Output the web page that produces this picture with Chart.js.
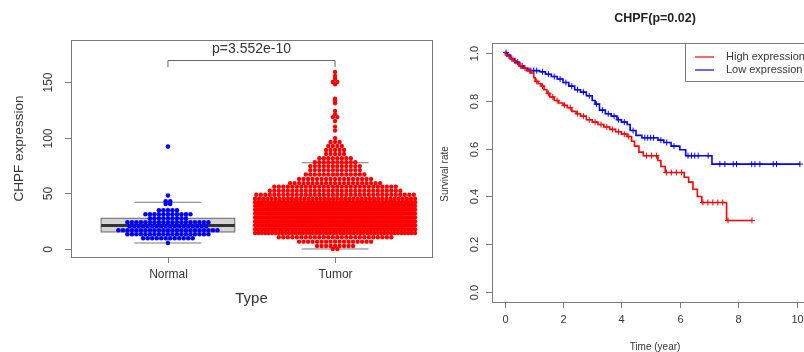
<!DOCTYPE html>
<html>
<head>
<meta charset="utf-8">
<script src="https://cdn.jsdelivr.net/npm/chart.js@4.4.0/dist/chart.umd.min.js"></script>
<style>
  html, body { margin: 0; padding: 0; background: #fff; overflow: hidden; width: 804px; height: 352px; }
  #left { position: absolute; left: 0; top: 0; }
  #right { position: absolute; left: 430px; top: 0; }
</style>
</head>
<body>
<canvas id="left" width="440" height="352"></canvas>
<canvas id="right" width="400" height="352"></canvas>
<script>
// ---------- left panel: CHPF expression by type ----------
const groups = ['Normal', 'Tumor'];
const exprTicks = [0, 50, 100, 150];
const pLabel = 'p=3.552e-10';

// beeswarm rows: row value and number of dots in it
const normalRowValues = [5.4, 9.6, 13.2, 16.8, 20.4, 24, 27.6, 31.2, 34.7, 40.4, 42.8, 48, 92];
const normalRowCounts = [1, 12, 19, 23, 18, 19, 9, 11, 5, 2, 2, 1, 1];

const tumorRowValues = [0, 2.7, 6.6, 10.5, 14.3, 17.8, 21.3, 24.8, 28.3, 31.8, 35.3, 38.7, 42.0, 45.2,
  48.8, 52.3, 56.0, 59.2, 62.9, 66.9, 70.9, 74.5, 78.0, 81.6, 85.3, 89.0, 92.6, 96.2, 99.5,
  106.5, 110, 115, 118.5, 121, 124, 131, 133.5, 135, 148, 150, 153, 155.5, 159];
const tumorRowCounts = [2, 9, 17, 26, 48, 62, 72, 80, 82, 78, 70, 60, 50, 40,
  36, 30, 28, 21, 17, 14, 12, 12, 10, 8, 5, 5, 4, 3, 1,
  1, 1, 1, 2, 1, 1, 1, 1, 1, 1, 2, 1, 1, 1];

// boxplot stats: low whisker, q1, median, q3, high whisker
const normalBox = [5.4, 15.3, 21, 27.6, 42];
const tumorBox = [0, 17, 28, 40, 77.5];

// ---------- right panel: survival ----------
const timeTicks = [0, 2, 4, 6, 8, 10];
const survTicks = [0, 0.2, 0.4, 0.6, 0.8, 1.0];

const highTimes = [0, 0.03, 0.1, 0.2, 0.3, 0.4, 0.5, 0.6, 0.75, 0.9, 1.0, 1.05, 1.15, 1.25, 1.35, 1.45, 1.55,
  1.7, 1.85, 2.0, 2.15, 2.3, 2.45, 2.6, 2.8, 3.0, 3.2, 3.4, 3.6, 3.8, 4.0, 4.2, 4.35, 4.45, 4.6, 4.75,
  5.25, 5.35, 5.5, 6.15, 6.3, 6.45, 6.6, 6.75, 7.6];
const highSurv = [1.0, 0.99, 0.985, 0.975, 0.965, 0.955, 0.945, 0.935, 0.925, 0.915, 0.895, 0.88, 0.87, 0.86, 0.845, 0.83, 0.815,
  0.80, 0.79, 0.78, 0.77, 0.755, 0.745, 0.735, 0.72, 0.71, 0.70, 0.69, 0.68, 0.67, 0.66, 0.65, 0.63, 0.61, 0.585, 0.57,
  0.55, 0.525, 0.50, 0.48, 0.46, 0.43, 0.40, 0.375, 0.30];
const highCensor = [0.15, 0.35, 0.55, 0.7, 0.85, 1.1, 1.3, 1.5, 1.65, 1.8, 2.05, 2.25, 2.5, 2.7, 2.9, 3.1, 3.3,
  3.5, 3.7, 3.9, 4.1, 4.25, 4.86, 5.03, 5.2, 5.54, 5.71, 5.88, 6.06, 6.79, 6.96, 7.13, 7.3, 7.47, 7.65, 8.47];

const lowTimes = [0, 0.1, 0.2, 0.35, 0.5, 0.65, 0.8, 1.2, 1.4, 1.6, 1.8, 2.0, 2.2, 2.4, 2.6, 2.8, 3.0, 3.1,
  3.25, 3.45, 3.65, 3.85, 4.0, 4.2, 4.3, 4.5, 4.7, 5.25, 5.45, 5.7, 6.0, 6.2, 7.1];
const lowSurv = [1.0, 0.99, 0.975, 0.96, 0.945, 0.935, 0.925, 0.92, 0.91, 0.90, 0.89, 0.875, 0.86, 0.845, 0.835, 0.82, 0.80, 0.785,
  0.76, 0.745, 0.735, 0.72, 0.71, 0.70, 0.675, 0.655, 0.645, 0.635, 0.625, 0.61, 0.595, 0.57, 0.535];
const lowCensor = [0.05, 0.25, 0.45, 0.6, 0.9, 1.0, 1.1, 1.3, 1.5, 1.7, 1.9, 2.1, 2.3, 2.5, 2.7, 2.9, 3.15, 3.35,
  3.55, 3.75, 3.9, 4.1, 4.4, 4.8, 4.9, 5.0, 5.1, 5.35, 5.55, 5.8, 6.28, 6.4, 6.51, 6.63, 6.97, 7.37, 7.54,
  7.83, 7.94, 8.46, 8.57, 8.74, 9.2, 9.31, 10.11];

const legendLabels = ['High expression', 'Low expression'];
const red = '#ff0000', blue = '#0000ff';
const frameGray = '#7a7a7a', textCol = '#333';
const font = (size, bold) => (bold ? 'bold ' : '') + size + 'px "Liberation Sans", Arial, sans-serif';

// centered beeswarm rows; rows too wide get squeezed into the corral
function swarm(center, values, counts, pxPerUnit) {
  const dot = 4.5, maxHalf = 80;
  const pts = [];
  values.forEach((v, i) => {
    const n = counts[i];
    let s = dot;
    if (n > 1 && (n - 1) * s / 2 > maxHalf) s = 2 * maxHalf / (n - 1);
    for (let j = 0; j < n; j++) {
      pts.push({ x: center + (j - (n - 1) / 2) * s / pxPerUnit, y: v });
    }
  });
  return pts;
}

function rotText(ctx, txt, x, y) {
  ctx.save();
  ctx.translate(x, y);
  ctx.rotate(-Math.PI / 2);
  ctx.textAlign = 'center';
  ctx.textBaseline = 'middle';
  ctx.fillText(txt, 0, 0);
  ctx.restore();
}

function drawFrame(chart, xTicks, xLabels, yTicks, yLabels, tickFont, yLabelGap) {
  const { ctx, chartArea: a, scales: { x, y } } = chart;
  ctx.save();
  ctx.strokeStyle = frameGray;
  ctx.lineWidth = 1;
  ctx.strokeRect(a.left + 0.5, a.top + 0.5, a.right - a.left, a.bottom - a.top);
  ctx.fillStyle = textCol;
  ctx.font = tickFont;
  ctx.textAlign = 'center';
  ctx.textBaseline = 'middle';
  xTicks.forEach((t, i) => {
    const px = Math.round(x.getPixelForValue(t)) + 0.5;
    ctx.beginPath(); ctx.moveTo(px, a.bottom); ctx.lineTo(px, a.bottom + 6); ctx.stroke();
    ctx.fillText(xLabels[i], px, a.bottom + 18);
  });
  yTicks.forEach((t, i) => {
    const py = Math.round(y.getPixelForValue(t)) + 0.5;
    ctx.beginPath(); ctx.moveTo(a.left, py); ctx.lineTo(a.left - 6, py); ctx.stroke();
    rotText(ctx, yLabels[i], a.left - yLabelGap, py);
  });
  ctx.restore();
}

const leftDecor = {
  id: 'leftDecor',
  beforeDatasetsDraw(chart) {
    const { ctx, scales: { x, y } } = chart;
    ctx.save();
    [normalBox, tumorBox].forEach((b, i) => {
      const c = i + 1;
      const l = x.getPixelForValue(c - 0.4), r = x.getPixelForValue(c + 0.4);
      const cl = x.getPixelForValue(c - 0.2), cr = x.getPixelForValue(c + 0.2);
      const cx = x.getPixelForValue(c);
      const [lo, q1, med, q3, hi] = b.map(v => y.getPixelForValue(v));
      ctx.strokeStyle = '#777';
      ctx.lineWidth = 1;
      ctx.setLineDash([4, 3]);
      ctx.beginPath(); ctx.moveTo(cx, q3); ctx.lineTo(cx, hi); ctx.moveTo(cx, q1); ctx.lineTo(cx, lo); ctx.stroke();
      ctx.setLineDash([]);
      ctx.beginPath(); ctx.moveTo(cl, hi); ctx.lineTo(cr, hi); ctx.moveTo(cl, lo); ctx.lineTo(cr, lo); ctx.stroke();
      ctx.fillStyle = '#d3d3d3';
      ctx.fillRect(l, q3, r - l, q1 - q3);
      ctx.strokeStyle = '#666';
      ctx.strokeRect(l, q3, r - l, q1 - q3);
      ctx.strokeStyle = '#333';
      ctx.lineWidth = 3;
      ctx.beginPath(); ctx.moveTo(l, med); ctx.lineTo(r, med); ctx.stroke();
    });
    ctx.restore();
  },
  afterDraw(chart) {
    const { ctx, chartArea: a, scales: { x, y } } = chart;
    drawFrame(chart, [1, 2], groups, exprTicks, exprTicks.map(String), font(12), 22);
    ctx.save();
    ctx.fillStyle = textCol;
    ctx.font = font(13.5);
    rotText(ctx, 'CHPF expression', 19, (a.top + a.bottom) / 2);
    ctx.font = font(15);
    ctx.textAlign = 'center';
    ctx.textBaseline = 'middle';
    ctx.fillText('Type', (a.left + a.right) / 2, 299);
    // significance bracket
    const x1 = x.getPixelForValue(1), x2 = x.getPixelForValue(2);
    const yb = Math.round(y.getPixelForValue(170)) + 0.5, yl = y.getPixelForValue(163.5);
    ctx.strokeStyle = '#666';
    ctx.lineWidth = 1;
    ctx.beginPath(); ctx.moveTo(x1, yl); ctx.lineTo(x1, yb); ctx.lineTo(x2, yb); ctx.lineTo(x2, yl); ctx.stroke();
    ctx.font = font(14);
    ctx.fillText(pLabel, (x1 + x2) / 2, y.getPixelForValue(180));
    ctx.restore();
  }
};

const pxPerUnitLeft = 361 / (2.58 - 0.42);

new Chart(document.getElementById('left'), {
  type: 'scatter',
  data: {
    datasets: [
      { data: swarm(1, normalRowValues, normalRowCounts, pxPerUnitLeft), backgroundColor: blue, borderWidth: 0, pointRadius: 2.3 },
      { data: swarm(2, tumorRowValues, tumorRowCounts, pxPerUnitLeft), backgroundColor: red, borderWidth: 0, pointRadius: 2.2 }
    ]
  },
  options: {
    responsive: false, animation: false, devicePixelRatio: 1, events: [],
    layout: { padding: { top: 40, right: 8, left: 0, bottom: 0 } },
    plugins: { legend: { display: false }, tooltip: { enabled: false } },
    scales: {
      x: { type: 'linear', min: 0.42, max: 2.58, ticks: { display: false }, grid: { display: false }, border: { display: false },
           afterFit: s => { s.height = 95; } },
      y: { min: -7.2, max: 187.8, ticks: { display: false }, grid: { display: false }, border: { display: false },
           afterFit: s => { s.width = 71; } }
    }
  },
  plugins: [leftDecor]
});

// ---------- right chart ----------
function survAt(times, surv, t) {
  let s = 1;
  for (let i = 0; i < times.length; i++) if (times[i] <= t) s = surv[i];
  return s;
}
function curve(times, surv, censor) {
  const pts = times.map((t, i) => ({ x: t, y: surv[i] }));
  pts.push({ x: Math.max(...censor), y: surv[surv.length - 1] });
  return pts;
}

const rightDecor = {
  id: 'rightDecor',
  afterDraw(chart) {
    const { ctx, chartArea: a } = chart;
    drawFrame(chart, timeTicks, timeTicks.map(String), survTicks, survTicks.map(v => v.toFixed(1)), font(11), 17);
    ctx.save();
    ctx.fillStyle = textCol;
    ctx.font = font(10);
    rotText(ctx, 'Survival rate', 15, 174);
    ctx.textAlign = 'center';
    ctx.textBaseline = 'middle';
    ctx.fillText('Time (year)', (a.left + a.right) / 2, 347);
    ctx.font = font(12.5, true);
    ctx.fillStyle = '#222';
    ctx.fillText('CHPF(p=0.02)', (a.left + a.right) / 2, 19);
    // legend
    ctx.fillStyle = '#fff';
    ctx.fillRect(255.5, a.top + 0.5, 200, 38);
    ctx.strokeStyle = frameGray;
    ctx.lineWidth = 1;
    ctx.strokeRect(255.5, a.top + 0.5, 200, 38);
    [red, blue].forEach((c, i) => {
      const ly = a.top + 14 + i * 13;
      ctx.strokeStyle = c;
      ctx.lineWidth = 1.2;
      ctx.beginPath(); ctx.moveTo(265, ly); ctx.lineTo(284, ly); ctx.stroke();
      ctx.fillStyle = textCol;
      ctx.font = font(11);
      ctx.textAlign = 'left';
      ctx.fillText(legendLabels[i], 296, ly);
    });
    ctx.restore();
  }
};

new Chart(document.getElementById('right'), {
  type: 'scatter',
  data: {
    datasets: [
      { type: 'line', data: curve(highTimes, highSurv, highCensor), borderColor: red, borderWidth: 1.6, stepped: true, pointRadius: 0, fill: false },
      { type: 'line', data: curve(lowTimes, lowSurv, lowCensor), borderColor: blue, borderWidth: 1.6, stepped: true, pointRadius: 0, fill: false },
      { data: highCensor.map(t => ({ x: t, y: survAt(highTimes, highSurv, t) })), pointStyle: 'cross', pointRadius: 3, borderColor: red, borderWidth: 1 },
      { data: lowCensor.map(t => ({ x: t, y: survAt(lowTimes, lowSurv, t) })), pointStyle: 'cross', pointRadius: 3, borderColor: blue, borderWidth: 1 }
    ]
  },
  options: {
    responsive: false, animation: false, devicePixelRatio: 1, events: [],
    layout: { padding: { top: 43, right: 12, left: 0, bottom: 0 } },
    plugins: { legend: { display: false }, tooltip: { enabled: false } },
    scales: {
      x: { type: 'linear', min: -0.43, max: 10.73, ticks: { display: false }, grid: { display: false }, border: { display: false },
           afterFit: s => { s.height = 50; } },
      y: { min: -0.04, max: 1.04, ticks: { display: false }, grid: { display: false }, border: { display: false },
           afterFit: s => { s.width = 62; } }
    }
  },
  plugins: [rightDecor]
});
</script>
</body>
</html>
